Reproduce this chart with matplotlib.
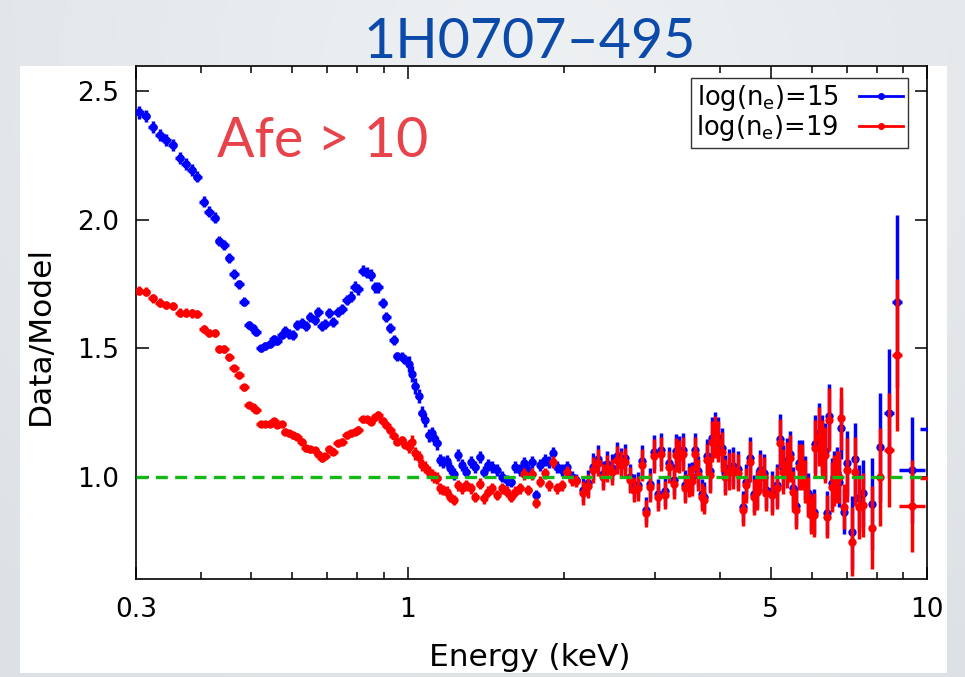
import numpy as np
import matplotlib
matplotlib.use("Agg")
import matplotlib.pyplot as plt
from matplotlib.lines import Line2D
from matplotlib.patches import Rectangle
from matplotlib.ticker import FixedLocator, FixedFormatter, NullFormatter

# ---------------------------------------------------------------------------
# Data/model ratios of 1H0707-495 for two reflection models
# (log n_e = 15 and log n_e = 19), binned in energy (keV).
# ---------------------------------------------------------------------------

# 0.30 - 0.58 keV
energy_a = [0.304, 0.313, 0.323, 0.334, 0.343, 0.353, 0.364, 0.374, 0.384, 0.394,
            0.405, 0.415, 0.425, 0.434, 0.444, 0.454, 0.463, 0.474, 0.484, 0.494,
            0.503, 0.511, 0.522, 0.532, 0.543, 0.553, 0.561, 0.572]
ratio15_a = [2.417, 2.403, 2.361, 2.329, 2.310, 2.290, 2.239, 2.216, 2.193, 2.167,
             2.070, 2.031, 2.008, 1.917, 1.902, 1.852, 1.789, 1.749, 1.681, 1.591,
             1.578, 1.565, 1.500, 1.509, 1.517, 1.535, 1.530, 1.552]
ratio19_a = [1.724, 1.720, 1.695, 1.678, 1.668, 1.665, 1.639, 1.639, 1.636, 1.634,
             1.574, 1.561, 1.561, 1.497, 1.497, 1.465, 1.422, 1.396, 1.349, 1.280,
             1.271, 1.260, 1.206, 1.206, 1.206, 1.219, 1.202, 1.206]

# 0.58 - 1.0 keV
energy_b = [0.582, 0.592, 0.601, 0.613, 0.625, 0.637, 0.650, 0.663, 0.673, 0.684,
            0.694, 0.707, 0.720, 0.734, 0.748, 0.763, 0.778, 0.792, 0.803, 0.819,
            0.834, 0.849, 0.866, 0.879, 0.895, 0.910, 0.926, 0.941, 0.955, 0.974,
            0.990]
ratio15_b = [1.567, 1.556, 1.552, 1.591, 1.597, 1.587, 1.623, 1.610, 1.642, 1.587,
             1.595, 1.636, 1.604, 1.642, 1.652, 1.688, 1.701, 1.740, 1.730, 1.802,
             1.794, 1.785, 1.737, 1.737, 1.677, 1.623, 1.578, 1.532, 1.470, 1.467,
             1.455]
ratio19_b = [1.176, 1.170, 1.163, 1.157, 1.137, 1.112, 1.108, 1.105, 1.090, 1.073,
             1.082, 1.108, 1.098, 1.131, 1.137, 1.163, 1.170, 1.176, 1.183, 1.224,
             1.224, 1.215, 1.232, 1.241, 1.219, 1.202, 1.183, 1.160, 1.137, 1.144,
             1.125]

# 1.0 - 2.12 keV
energy_c = [1.006, 1.020, 1.035, 1.050, 1.065, 1.080, 1.098, 1.112, 1.125, 1.140,
            1.156, 1.172, 1.190, 1.207, 1.227, 1.251, 1.273, 1.298, 1.325, 1.351,
            1.377, 1.402, 1.426, 1.454, 1.487, 1.520, 1.552, 1.585, 1.613, 1.647,
            1.677, 1.708, 1.738, 1.770, 1.802, 1.839, 1.869, 1.906, 1.940, 1.984,
            2.025, 2.070, 2.112]
ratio15_c = [1.440, 1.400, 1.354, 1.315, 1.248, 1.222, 1.163, 1.170, 1.150, 1.131,
             1.066, 1.059, 1.063, 1.034, 1.012, 1.085, 1.047, 1.021, 1.059, 1.040,
             1.077, 1.021, 1.047, 1.040, 1.027, 1.001, 0.988, 0.982, 1.040, 1.027,
             1.053, 1.027, 1.059, 0.930, 1.047, 1.066, 1.059, 1.092, 1.040, 1.027,
             1.040, 1.001, 0.990]
ratio19_c = [1.118, 1.137, 1.092, 1.079, 1.047, 1.040, 1.021, 1.008, 1.000, 0.996,
             0.956, 0.950, 0.943, 0.923, 0.911, 0.969, 0.956, 0.969, 0.956, 0.923,
             0.975, 0.917, 0.943, 0.956, 0.930, 0.956, 0.943, 0.923, 0.943, 0.956,
             1.012, 0.950, 1.012, 0.898, 0.982, 1.014, 0.969, 1.059, 0.956, 0.969,
             1.021, 0.988, 0.985]

# 2.17 - 10 keV
energy_d = [2.176, 2.222, 2.275, 2.323, 2.375, 2.423, 2.478, 2.534, 2.581, 2.625,
            2.675, 2.723, 2.776, 2.826, 2.880, 2.924, 2.977, 3.031, 3.078, 3.125,
            3.187, 3.251, 3.290, 3.334, 3.384, 3.421, 3.474, 3.529, 3.576, 3.629,
            3.684, 3.722, 3.766, 3.821, 3.850, 3.906, 3.963, 4.022, 4.082, 4.161,
            4.236, 4.333, 4.420, 4.486, 4.554, 4.637, 4.709, 4.765, 4.850, 4.908,
            5.040, 5.140, 5.205, 5.290, 5.370, 5.440, 5.520, 5.590, 5.670, 5.750,
            5.810, 5.900, 5.990, 6.050, 6.100, 6.190, 6.280, 6.350, 6.410, 6.490,
            6.560, 6.630, 6.710, 6.780, 6.840, 6.930, 7.020, 7.160, 7.280, 7.390,
            7.530, 7.830, 8.110, 8.450, 8.770, 9.370, 10.15]
ratio15_d = [0.950, 0.978, 1.040, 1.072, 1.012, 1.050, 1.036, 1.082, 1.060, 1.076,
             1.000, 0.962, 0.970, 1.062, 0.872, 0.975, 1.098, 0.936, 1.104, 0.944,
             1.055, 0.990, 1.100, 1.094, 1.104, 0.970, 0.996, 1.000, 1.104, 1.022,
             0.936, 0.924, 1.082, 1.022, 1.152, 1.172, 1.152, 1.112, 1.014, 1.036,
             1.042, 1.030, 0.884, 0.982, 1.074, 0.936, 0.956, 1.028, 1.014, 0.950,
             0.944, 0.970, 1.146, 1.036, 1.062, 1.088, 0.956, 0.886, 1.056, 1.056,
             0.996, 0.938, 0.866, 0.866, 1.128, 1.172, 1.128, 1.100, 0.860, 1.238,
             0.976, 1.002, 1.016, 0.980, 1.190, 0.866, 1.053, 0.785, 1.070, 0.917,
             0.937, 0.894, 1.115, 1.247, 1.681, 1.027, 1.185]
ratio19_d = [0.937, 0.965, 1.027, 1.056, 1.001, 1.034, 1.021, 1.066, 1.047, 1.059,
             0.988, 0.950, 0.956, 1.047, 0.859, 0.960, 1.082, 0.923, 1.089, 0.930,
             1.040, 0.975, 1.085, 1.079, 1.089, 0.956, 0.982, 0.986, 1.089, 1.008,
             0.923, 0.911, 1.066, 1.008, 1.137, 1.157, 1.137, 1.098, 1.001, 1.021,
             1.027, 1.017, 0.872, 0.969, 1.059, 0.923, 0.943, 1.014, 1.001, 0.937,
             0.930, 0.956, 1.131, 1.021, 1.047, 1.073, 0.943, 0.872, 1.040, 1.040,
             0.982, 0.923, 0.852, 0.852, 1.112, 1.157, 1.112, 1.085, 0.846, 1.222,
             0.962, 0.988, 1.001, 1.001, 1.228, 0.885, 1.027, 0.749, 1.021, 0.885,
             0.891, 0.804, 1.001, 1.105, 1.474, 0.887, 0.995]
# fractional 1-sigma error of the ratio in each high-energy bin
rel_err_d = [0.050, 0.050, 0.050, 0.050, 0.050, 0.050, 0.050, 0.050, 0.050, 0.050,
             0.050, 0.050, 0.050, 0.060, 0.060, 0.060, 0.060, 0.060, 0.060, 0.060,
             0.060, 0.060, 0.060, 0.060, 0.060, 0.060, 0.060, 0.060, 0.060, 0.060,
             0.060, 0.060, 0.060, 0.070, 0.070, 0.070, 0.070, 0.070, 0.070, 0.070,
             0.070, 0.070, 0.070, 0.070, 0.075, 0.075, 0.075, 0.075, 0.075, 0.075,
             0.085, 0.085, 0.085, 0.085, 0.085, 0.085, 0.085, 0.085, 0.085, 0.085,
             0.085, 0.085, 0.085, 0.100, 0.100, 0.100, 0.100, 0.100, 0.100, 0.100,
             0.100, 0.100, 0.100, 0.100, 0.100, 0.100, 0.120, 0.180, 0.130, 0.140,
             0.140, 0.200, 0.190, 0.200, 0.200, 0.200, 0.200]
# fractional bin half-width in each high-energy bin
half_width_d = [0.012] * 50 + [0.010] * 26 + [0.010, 0.010, 0.010, 0.010,
                0.012, 0.012, 0.012, 0.022, 0.022, 0.058, 0.045]

# typical fractional errors / half-widths for the lower-energy bins
rel_err_a, rel_err_b, rel_err_c = 0.010, 0.012, 0.022
half_width_a, half_width_b, half_width_c = 0.021, 0.020, 0.015

energy = np.array(energy_a + energy_b + energy_c + energy_d)
ratio15 = np.array(ratio15_a + ratio15_b + ratio15_c + ratio15_d)
ratio19 = np.array(ratio19_a + ratio19_b + ratio19_c + ratio19_d)
rel_err = np.array([rel_err_a] * len(energy_a) + [rel_err_b] * len(energy_b)
                   + [rel_err_c] * len(energy_c) + rel_err_d)
half_width = np.array([half_width_a] * len(energy_a) + [half_width_b] * len(energy_b)
                      + [half_width_c] * len(energy_c) + half_width_d)

x_ticks = [0.3, 1, 5, 10]
x_tick_labels = ["0.3", "1", "5", "10"]
x_minor = [0.4, 0.5, 0.6, 0.7, 0.8, 0.9, 2, 3, 4, 6, 7, 8, 9]
y_ticks = [1.0, 1.5, 2.0, 2.5]
y_tick_labels = ["1.0", "1.5", "2.0", "2.5"]

W, H = 965, 677
fig = plt.figure(figsize=(W / 100, H / 100), dpi=100)

# soft grey slide background
bg = fig.add_axes([0, 0, 1, 1], zorder=-10)
bg.axis("off")
yy, xx = np.mgrid[0:1:200j, 0:1:300j]
d = np.clip(np.hypot((xx - 0.55) * 1.2, (yy - 0.1) * 1.0), 0, 1)
c0 = np.array([0.935, 0.945, 0.952])
c1 = np.array([0.865, 0.885, 0.900])
img = c0 + (c1 - c0) * d[..., None]
bg.imshow(img, extent=[0, 1, 0, 1], aspect="auto", origin="upper")
bg.set_xlim(0, 1)
bg.set_ylim(0, 1)

# white panel behind the plot
fig.patches.append(Rectangle((20 / W, 4 / H), (947 - 20) / W, (H - 66 - 4) / H,
                             transform=fig.transFigure, facecolor="white",
                             edgecolor="none", zorder=-5))

ax = fig.add_axes([136 / W, 1 - 579 / H, 791 / W, 513 / H])
ax.set_facecolor("white")

eb_kw = dict(fmt="o", ms=6.0, mew=0, elinewidth=2.5, capsize=0)
ax.errorbar(energy, ratio15, xerr=energy * half_width, yerr=ratio15 * rel_err,
            color="#0000ff", zorder=3, **eb_kw)
ax.errorbar(energy, ratio19, xerr=energy * half_width, yerr=ratio19 * rel_err,
            color="#ff0000", zorder=4, **eb_kw)

ax.axhline(1.0, color="#14b814", lw=2.4, dashes=(3.6, 2.2), zorder=6)

ax.set_xscale("log")
ax.set_xlim(0.3, 10)
ax.set_ylim(0.604, 2.597)

ax.xaxis.set_major_locator(FixedLocator(x_ticks))
ax.xaxis.set_major_formatter(FixedFormatter(x_tick_labels))
ax.xaxis.set_minor_locator(FixedLocator(x_minor))
ax.xaxis.set_minor_formatter(NullFormatter())
ax.yaxis.set_major_locator(FixedLocator(y_ticks))
ax.yaxis.set_major_formatter(FixedFormatter(y_tick_labels))
ax.yaxis.set_minor_locator(FixedLocator([]))

ax.tick_params(which="both", direction="in", top=True, right=True,
               width=1.1, colors="black", labelsize=19)
ax.tick_params(which="major", length=9)
ax.tick_params(which="minor", length=5)
ax.tick_params(axis="x", which="major", pad=13)
ax.tick_params(axis="y", which="major", pad=12)
for sp in ax.spines.values():
    sp.set_linewidth(1.2)
    sp.set_color("black")

ax.set_xlabel("Energy (keV)", fontsize=22.5)
ax.xaxis.set_label_coords(0.498, -0.125)
ax.set_ylabel("Data/Model", fontsize=22.5)
ax.yaxis.set_label_coords(-0.102, 0.475)

handles = [Line2D([], [], color="#0000ff", lw=2, marker="o", ms=5, mew=0),
           Line2D([], [], color="#ff0000", lw=2, marker="o", ms=5, mew=0)]
labels = [r"log(n$_{\rm e}$)=15", r"log(n$_{\rm e}$)=19"]
leg = ax.legend(handles, labels, loc="upper right", bbox_to_anchor=(0.976, 0.9766),
                fontsize=18.5, markerfirst=False, frameon=True, fancybox=False,
                borderpad=0.2, labelspacing=0.0, handlelength=1.7,
                handletextpad=0.8, borderaxespad=0.0)
leg.get_frame().set_edgecolor("black")
leg.get_frame().set_linewidth(1.0)

ax.text(0.1024, 0.8226, "Afe > 10", transform=ax.transAxes, fontsize=40,
        family="Lato", color="#e8434b", ha="left", va="baseline", zorder=7)

fig.text(0.549, 1 - 58 / H, "1H0707\u2013495", fontsize=40, family="Lato",
         color="#0b4aa8", ha="center", va="baseline")

fig.savefig("out.png", dpi=100)
